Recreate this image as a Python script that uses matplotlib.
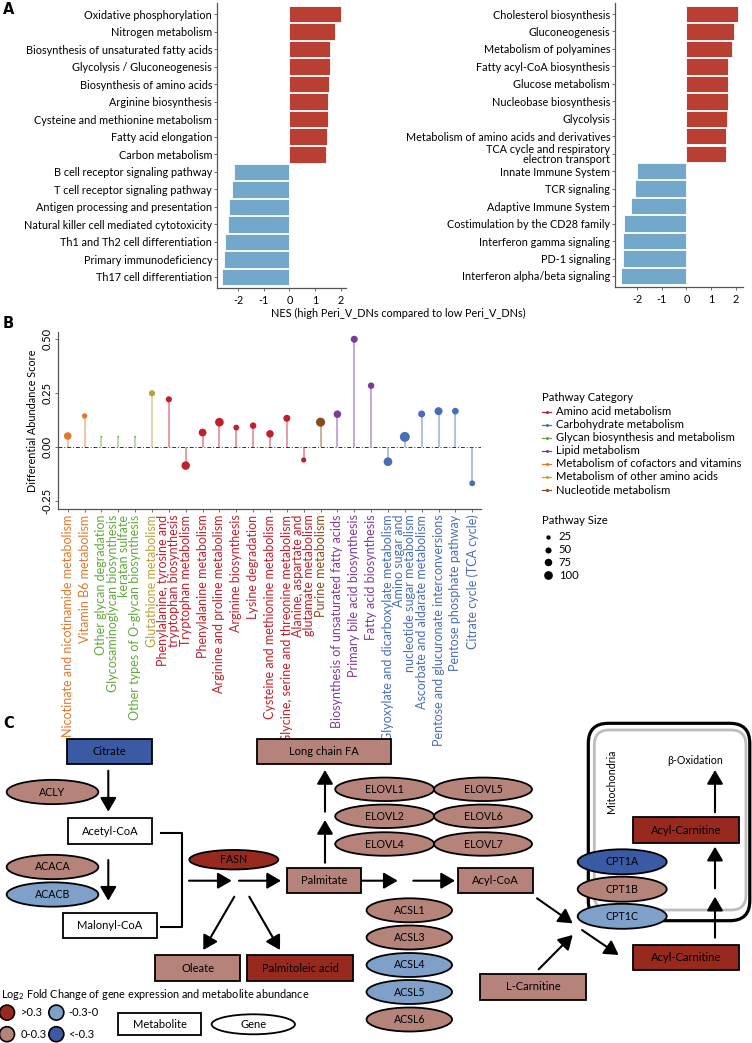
import matplotlib
matplotlib.use("Agg")
import matplotlib.pyplot as plt
from matplotlib.patches import Rectangle, Ellipse, FancyBboxPatch
from matplotlib.lines import Line2D
import numpy as np

plt.rcParams['font.family'] = ['Lato', 'DejaVu Sans']
plt.rcParams['mathtext.fontset'] = 'custom'
plt.rcParams['mathtext.rm'] = 'Lato'

W, H = 752, 1043
FS_A = 7.8      # panel A text
FS_BX = 9.0     # panel B pathway labels
FS_BY = 7.6     # panel B y axis
FS_LEG = 8.1    # panel B legends
FS_C = 8.0      # panel C text

# ---------------- Panel A data ----------------
kegg_terms = ["Oxidative phosphorylation", "Nitrogen metabolism",
              "Biosynthesis of unsaturated fatty acids", "Glycolysis / Gluconeogenesis",
              "Biosynthesis of amino acids", "Arginine biosynthesis",
              "Cysteine and methionine metabolism", "Fatty acid elongation",
              "Carbon metabolism", "B cell receptor signaling pathway",
              "T cell receptor signaling pathway", "Antigen processing and presentation",
              "Natural killer cell mediated cytotoxicity", "Th1 and Th2 cell differentiation",
              "Primary immunodeficiency", "Th17 cell differentiation"]
kegg_nes = [1.99, 1.79, 1.57, 1.57, 1.53, 1.50, 1.50, 1.48, 1.44,
            -2.14, -2.22, -2.35, -2.38, -2.52, -2.54, -2.61]

reactome_terms = ["Cholesterol biosynthesis", "Gluconeogenesis", "Metabolism of polyamines",
                  "Fatty acyl-CoA biosynthesis", "Glucose metabolism",
                  "Nucleobase biosynthesis", "Glycolysis",
                  "Metabolism of amino acids and derivatives",
                  "TCA cycle and respiratory\nelectron transport",
                  "Innate Immune System", "TCR signaling", "Adaptive Immune System",
                  "Costimulation by the CD28 family", "Interferon gamma signaling",
                  "PD-1 signaling", "Interferon alpha/beta signaling"]
reactome_nes = [2.08, 1.94, 1.85, 1.69, 1.69, 1.67, 1.65, 1.62, 1.62,
                -1.98, -2.08, -2.24, -2.51, -2.55, -2.58, -2.66]

nes_ticks = [-2, -1, 0, 1, 2]
nes_xlabel = "NES (high Peri_V_DNs compared to low Peri_V_DNs)"

# ---------------- Panel B data ----------------
b_pathways = ["Nicotinate and nicotinamide metabolism", "Vitamin B6 metabolism",
              "Other glycan degradation", "Glycosaminoglycan biosynthesis\nkeratan sulfate",
              "Other types of O-glycan biosynthesis", "Glutathione metabolism",
              "Phenylalanine, tyrosine and\ntryptophan biosynthesis", "Tryptophan metabolism",
              "Phenylalanine metabolism", "Arginine and proline metabolism",
              "Arginine biosynthesis", "Lysine degradation",
              "Cysteine and methionine metabolism", "Glycine, serine and threonine metabolism",
              "Alanine, aspartate and\nglutamate metabolism", "Purine metabolism",
              "Biosynthesis of unsaturated fatty acids", "Primary bile acid biosynthesis",
              "Fatty acid biosynthesis", "Glyoxylate and dicarboxylate metabolism",
              "Amino sugar and\nnucleotide sugar metabolism", "Ascorbate and aldarate metabolism",
              "Pentose and glucuronate interconversions", "Pentose phosphate pathway",
              "Citrate cycle (TCA cycle)"]
b_category = ["Cofactors", "Cofactors", "Glycan", "Glycan", "Glycan", "OtherAA",
              "AminoAcid", "AminoAcid", "AminoAcid", "AminoAcid", "AminoAcid", "AminoAcid",
              "AminoAcid", "AminoAcid", "AminoAcid", "Nucleotide",
              "Lipid", "Lipid", "Lipid",
              "Carbohydrate", "Carbohydrate", "Carbohydrate", "Carbohydrate", "Carbohydrate",
              "Carbohydrate"]
b_score = [0.052, 0.145, 0.049, 0.049, 0.049, 0.250, 0.222, -0.085, 0.068, 0.116,
           0.091, 0.100, 0.062, 0.134, -0.059, 0.116, 0.153, 0.500, 0.285, -0.067,
           0.048, 0.154, 0.167, 0.167, -0.167]
b_size = [75, 38, 4, 4, 4, 50, 50, 95, 80, 100, 45, 55, 75, 65, 35, 110, 75, 65, 55,
          100, 130, 65, 85, 60, 45]

category_keys = ["AminoAcid", "Carbohydrate", "Glycan", "Lipid", "Cofactors", "OtherAA",
                 "Nucleotide"]
category_names = ["Amino acid metabolism", "Carbohydrate metabolism",
                  "Glycan biosynthesis and metabolism", "Lipid metabolism",
                  "Metabolism of cofactors and vitamins", "Metabolism of other amino acids",
                  "Nucleotide metabolism"]
category_colors = ["#C0202B", "#4A6DB8", "#63A83C", "#7E3A98", "#E2782E", "#BBA03C",
                   "#8A4B1C"]
size_breaks = [25, 50, 75, 100]

# ---------------- Panel C data ----------------
fc_colors = {">0.3": "#97291E", "0-0.3": "#B5837A", "-0.3-0": "#7FA1C9",
             "<-0.3": "#3A5AA3", "none": "white"}
c_metabolites = ["Citrate", "Acetyl-CoA", "Malonyl-CoA", "Long chain FA", "Palmitate",
                 "Oleate", "Palmitoleic acid", "Acyl-CoA", "L-Carnitine",
                 "Acyl-Carnitine", "Acyl-Carnitine"]
c_metabolite_fc = ["<-0.3", "none", "none", "0-0.3", "0-0.3", "0-0.3", ">0.3", "0-0.3",
                   "0-0.3", ">0.3", ">0.3"]
c_genes = ["ACLY", "ACACA", "ACACB", "FASN", "ELOVL1", "ELOVL2", "ELOVL4", "ELOVL5",
           "ELOVL6", "ELOVL7", "ACSL1", "ACSL3", "ACSL4", "ACSL5", "ACSL6",
           "CPT1A", "CPT1B", "CPT1C"]
c_gene_fc = ["0-0.3", "0-0.3", "-0.3-0", ">0.3", "0-0.3", "0-0.3", "0-0.3", "0-0.3",
             "0-0.3", "0-0.3", "0-0.3", "0-0.3", "-0.3-0", "-0.3-0", "0-0.3",
             "<-0.3", "0-0.3", "-0.3-0"]

# ---------------- layout (pixels) ----------------
met_boxes = [(66.7, 739.3, 151.7, 764.3), (68.3, 818.3, 152.3, 844.3),
             (62.7, 913.3, 157.3, 938.3), (256.7, 739.3, 391, 764.3),
             (286.7, 868.3, 360.7, 893.3), (155, 955.3, 240, 981),
             (247.3, 955.3, 352.7, 981), (457.7, 868.3, 532.7, 893.3),
             (480.3, 974, 586, 1000), (632.7, 945, 738.7, 970),
             (632.7, 817.3, 738.7, 843.3)]
gene_ell = [(52.5, 792, 91.7, 24.3), (52.5, 867, 91.7, 24.3), (52.5, 894.5, 91.7, 24.3),
            (233.8, 859.7, 89, 19.5),
            (384.7, 789.3, 99, 23.5), (384.7, 816.3, 99, 23.5), (384.7, 844, 99, 23.5),
            (483, 789.3, 98, 23.5), (483, 816.3, 98, 23.5), (483, 844, 98, 23.5),
            (409.3, 910.3, 85.5, 24), (409.3, 937.5, 85.5, 24), (409.3, 965, 85.5, 24),
            (409.3, 992, 85.5, 24), (409.3, 1019.5, 85.5, 24),
            (622.2, 861.8, 89, 25), (622.2, 889.2, 89, 25), (622.2, 916.3, 89, 25)]
arrows = [((108.3, 770.7), (108.3, 811.7)), ((108.3, 860), (108.3, 900.7)),
          ((189, 880.7), (231.7, 880.7)), ((239, 880.7), (281, 880.7)),
          ((234.3, 896.7), (203.3, 950)), ((249.3, 896.7), (280, 950)),
          ((325, 862.7), (325, 820)), ((325, 811.7), (325, 770)),
          ((360.7, 880.7), (397.7, 880.7)), ((413.3, 880.7), (455, 880.7)),
          ((537, 898.3), (572.7, 923.3)), ((538.7, 969.3), (572.7, 935)),
          ((582, 930), (618.7, 955)), ((715, 937.7), (715, 896.7)),
          ((715, 888.3), (715, 846.7)), ((715, 812.3), (715, 770))]


def fig_rect(x0, y0, x1, y1):
    return [x0 / W, 1 - y1 / H, (x1 - x0) / W, (y1 - y0) / H]


fig = plt.figure(figsize=(W / 100, H / 100), dpi=100)

RED = "#B83F32"
BLUE = "#72A9CB"


def nes_panel(rect, terms, vals, xlim):
    ax = fig.add_axes(rect)
    y = np.arange(len(terms))
    cols = [RED if v > 0 else BLUE for v in vals]
    ax.barh(y, vals, height=0.94, color=cols, edgecolor="white", linewidth=0.6)
    ax.set_ylim(len(terms) - 0.37, -0.63)
    ax.set_xlim(*xlim)
    ax.set_yticks(y)
    ax.set_yticklabels(terms, fontsize=FS_A, linespacing=0.9)
    ax.set_xticks(nes_ticks)
    ax.set_xticklabels([str(t) for t in nes_ticks], fontsize=FS_A)
    for s in ["top", "right"]:
        ax.spines[s].set_visible(False)
    for s in ["left", "bottom"]:
        ax.spines[s].set_color("#555555")
        ax.spines[s].set_linewidth(0.9)
    ax.tick_params(axis="both", length=2, width=0.6, color="#555555", pad=1.5)
    ax.tick_params(axis="x", pad=3)
    return ax


nes_panel(fig_rect(217, 3, 346, 288), kegg_terms, kegg_nes, (-2.82, 2.2))
nes_panel(fig_rect(615, 3, 742.7, 287), reactome_terms, reactome_nes, (-2.89, 2.28))

# ---------------- Panel B ----------------
axB = fig.add_axes(fig_rect(58.3, 331.7, 481, 509))
xpos = np.arange(1, len(b_pathways) + 1)
cmap = dict(zip(category_keys, category_colors))
pcols = [cmap[c] for c in b_category]


def size_to_area(s):
    d_px = 8.7 * np.sqrt(np.asarray(s, dtype=float) / 100.0)
    return (d_px * 0.72) ** 2


axB.axhline(0, color="#333333", lw=0.7, ls=(0, (4, 2, 1, 2)), zorder=1)
axB.vlines(xpos, 0, b_score, colors=pcols, lw=1.1, alpha=0.55, zorder=2)
axB.scatter(xpos, b_score, s=size_to_area(b_size), c=pcols, zorder=3, linewidths=0)
axB.set_xlim(0.44, 25.52)
axB.set_ylim(-0.286, 0.535)
axB.set_yticks([-0.25, 0, 0.25, 0.5])
axB.set_yticklabels(["-0.25", "0.00", "0.25", "0.50"], rotation=90, va="center",
                    fontsize=FS_BY + 0.4)
axB.set_ylabel("Differential Abundance Score", fontsize=FS_BY + 0.2, labelpad=3)
axB.set_xticks(xpos)
axB.set_xticklabels(b_pathways, rotation=90, fontsize=FS_BX, ha="center", va="top",
                    multialignment="right", linespacing=0.9)
for lab, c in zip(axB.get_xticklabels(), pcols):
    lab.set_color(c)
for s in ["top", "right"]:
    axB.spines[s].set_visible(False)
for s in ["left", "bottom"]:
    axB.spines[s].set_color("#555555")
    axB.spines[s].set_linewidth(0.9)
axB.tick_params(axis="both", length=2, width=0.6, color="#555555", pad=2)

# ---------------- overlay (legends, panel C, letters) ----------------
ov = fig.add_axes([0, 0, 1, 1], zorder=10)
ov.set_xlim(0, W)
ov.set_ylim(H, 0)
ov.axis("off")
ov.patch.set_alpha(0)

for lab, (x, y) in zip(["A", "B", "C"], [(3, 9), (3, 323), (3, 724)]):
    ov.text(x, y, lab, fontsize=10.5, fontweight="bold", va="center", ha="left",
            family=["DejaVu Sans"])

ov.text(398.3, 313.3, nes_xlabel, fontsize=FS_A, ha="center", va="center")

# panel B legends
ov.text(542.5, 397.7, "Pathway Category", fontsize=FS_LEG, ha="left", va="center")
for i, (name, col) in enumerate(zip(category_names, category_colors)):
    yy = 411.7 + 13.05 * i
    ov.add_line(Line2D([542, 551], [yy, yy], color=col, lw=0.9))
    ov.plot([546.5], [yy], marker="o", ms=2.2, color=col, mew=0)
    ov.text(556, yy, name, fontsize=FS_LEG, ha="left", va="center")
ov.text(542.5, 521, "Pathway Size", fontsize=FS_LEG, ha="left", va="center")
for i, sb in enumerate(size_breaks):
    yy = 536.7 + 12.8 * i
    ov.scatter([547.7], [yy], s=size_to_area(sb), color="black", linewidths=0)
    ov.text(558.7, yy, str(sb), fontsize=FS_LEG, ha="left", va="center")

# panel C
ov.add_patch(FancyBboxPatch((588.3, 723.3), 161.5, 197.4,
                            boxstyle="round,pad=0,rounding_size=20",
                            fc="none", ec="black", lw=2.3, zorder=1))
ov.add_patch(FancyBboxPatch((594.3, 730), 151.7, 180,
                            boxstyle="round,pad=0,rounding_size=15",
                            fc="none", ec="#BDBDBD", lw=2.0, zorder=1))
ov.text(612, 781.7, "Mitochondria", rotation=90, fontsize=FS_C - 0.3, ha="center",
        va="center")
ov.text(695.3, 760, "β-Oxidation", fontsize=FS_C - 0.3, ha="center", va="center")

for (x0, y0, x1, y1), name, fc in zip(met_boxes, c_metabolites, c_metabolite_fc):
    ov.add_patch(Rectangle((x0, y0), x1 - x0, y1 - y0, fc=fc_colors[fc], ec="black",
                           lw=1.3, zorder=3))
    ov.text((x0 + x1) / 2, (y0 + y1) / 2, name, fontsize=FS_C, ha="center",
            va="center", zorder=4)

for (cx, cy, w, h), name, fc in zip(gene_ell, c_genes, c_gene_fc):
    ov.add_patch(Ellipse((cx, cy), w, h, fc=fc_colors[fc], ec="black", lw=1.3, zorder=3))
    ov.text(cx, cy, name, fontsize=FS_C - 0.3, ha="center", va="center", zorder=4)

for (x0, y0), (x1, y1) in arrows:
    ov.annotate("", xy=(x1, y1), xytext=(x0, y0),
                arrowprops=dict(arrowstyle="-|>,head_length=0.6,head_width=0.35",
                                lw=1.5, color="black", shrinkA=0, shrinkB=0,
                                mutation_scale=14), zorder=2)

ov.plot([161, 182.3, 182.3, 161], [833.3, 833.3, 927, 927], color="black", lw=1.5,
        solid_joinstyle="round", zorder=2)

# Panel C legend
ov.text(1, 995, r"Log$_\mathregular{2}$ Fold Change of gene expression and metabolite abundance",
        fontsize=FS_C - 0.2, ha="left", va="center")
leg_items = [(">0.3", 7, 1012.6, 20.7), ("-0.3-0", 56.3, 1012.6, 68.3),
             ("0-0.3", 7, 1034.2, 20.7), ("<-0.3", 56.3, 1034.2, 68.3)]
for key, cx, cy, tx in leg_items:
    ov.add_patch(Ellipse((cx, cy), 15, 15, fc=fc_colors[key], ec="black", lw=1.2))
    ov.text(tx, cy, key, fontsize=FS_C, ha="left", va="center")
ov.add_patch(Rectangle((118.3, 1013.3), 82.7, 21.7, fc="white", ec="black", lw=1.3))
ov.text(159.7, 1024.2, "Metabolite", fontsize=FS_C, ha="center", va="center")
ov.add_patch(Ellipse((253.3, 1024.3), 83.3, 20, fc="white", ec="black", lw=1.3))
ov.text(253.3, 1024.3, "Gene", fontsize=FS_C, ha="center", va="center")

fig.savefig("out.png", dpi=100)
